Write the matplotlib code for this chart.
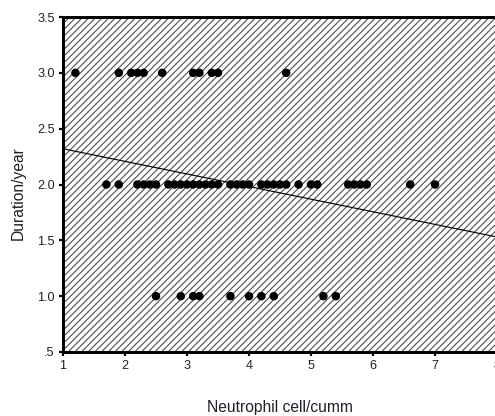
import numpy as np
import matplotlib.pyplot as plt
from matplotlib.patches import Rectangle

plt.rcParams['font.family'] = ['Liberation Sans', 'DejaVu Sans']
plt.rcParams['hatch.linewidth'] = 0.65

# neutrophil counts, grouped by duration
neut_3yr = [1.2, 1.9, 2.1, 2.2, 2.3, 2.6, 3.1, 3.2, 3.4, 3.5, 4.6]
neut_2yr = [1.7, 1.9, 2.2, 2.3, 2.4, 2.5, 2.7, 2.8, 2.9, 3.0, 3.1, 3.2,
            3.3, 3.4, 3.5, 3.7, 3.8, 3.9, 4.0, 4.2, 4.3, 4.4, 4.5, 4.6,
            4.8, 5.0, 5.1, 5.6, 5.7, 5.8, 5.9, 6.6, 7.0]
neut_1yr = [2.5, 2.9, 3.1, 3.2, 3.7, 4.0, 4.2, 4.4, 5.2, 5.4]

# fitted line end points
fit_x = [1.0, 8.0]
fit_y = [2.32, 1.53]

xticks = [1, 2, 3, 4, 5, 6, 7, 8]
yticks = [0.5, 1.0, 1.5, 2.0, 2.5, 3.0, 3.5]
ytick_labels = ['.5', '1.0', '1.5', '2.0', '2.5', '3.0', '3.5']

fig = plt.figure(figsize=(495 / 120, 416 / 120), dpi=120)
ax = fig.add_axes([63 / 495, 64 / 416, 434 / 495, 335 / 416])

# hatched background (dense diagonal lines)
ax.add_patch(Rectangle((0, 0), 1, 1, transform=ax.transAxes, facecolor='white',
                       edgecolor='#4a4a4a', hatch='//////', lw=0, zorder=0))

txt = '#1f1f2a'
for xs, yv in [(neut_3yr, 3.0), (neut_2yr, 2.0), (neut_1yr, 1.0)]:
    ax.scatter(xs, [yv] * len(xs), s=26, color='black', edgecolor='none', zorder=3)

ax.plot(fit_x, fit_y, color='black', lw=0.7, zorder=2)

ax.set_xlim(1, 8)
ax.set_ylim(0.5, 3.5)
ax.set_xticks(xticks)
ax.set_yticks(yticks)
ax.set_yticklabels(ytick_labels)
ax.tick_params(axis='both', labelsize=7.6, length=2.5, width=1.3, colors='black',
               labelcolor=txt, pad=2.5)

for side in ['top', 'left', 'bottom', 'right']:
    ax.spines[side].set_linewidth(1.8)
    ax.spines[side].set_color('black')

ax.set_xlabel('Neutrophil cell/cumm', fontsize=9.4, color=txt)
ax.xaxis.set_label_coords(0.5, -0.143)
ax.set_ylabel('Duration/year', fontsize=9.4, color=txt)
ax.yaxis.set_label_coords(-0.085, 0.475)

fig.savefig('out.png', dpi=120)
